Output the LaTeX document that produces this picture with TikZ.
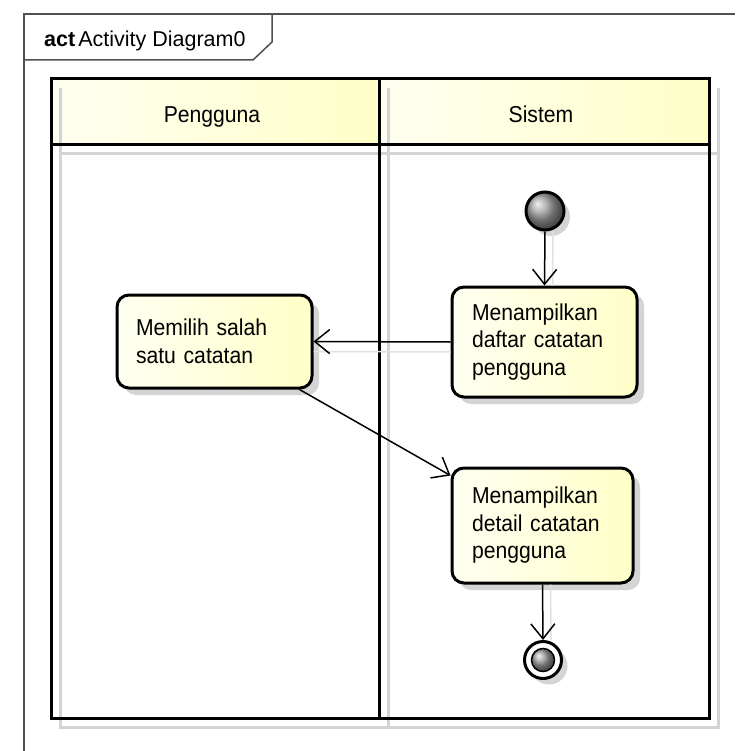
\documentclass[tikz,border=0pt]{standalone}
\usepackage{fontspec}
\setmainfont{Liberation Sans}
\newfontfamily\narrowsans[FakeStretch=0.92]{Liberation Sans}
\usetikzlibrary{arrows.meta,shadows}

\definecolor{framegray}{HTML}{505050}
\definecolor{paleyellow}{HTML}{FFFFF2}
\definecolor{lightyellow}{HTML}{FFFFC8}
\definecolor{shadowgray}{HTML}{D4D4D4}

\tikzset{
  diagramfont/.style={font=\narrowsans\fontsize{23}{27.5}\selectfont},
  titlefont/.style={font=\fontsize{21.5}{26}\selectfont},
  frameline/.style={draw=framegray, line width=1.5pt},
  laneline/.style={draw=black, line width=3pt},
  laneshadow/.style={draw=shadowgray, line width=3pt},
  lanehead/.style={left color=paleyellow, right color=lightyellow, draw=none},
  action/.style={diagramfont, rectangle, rounded corners=12pt, draw=black,
    line width=3pt, left color=paleyellow, right color=lightyellow,
    align=left, inner ysep=0pt,
    drop shadow={shadow xshift=7pt, shadow yshift=-7pt, fill=shadowgray, opacity=1}},
  startnode/.style={circle, draw=black, line width=3pt, minimum size=38pt,
    inner sep=0pt, ball color=gray!75,
    drop shadow={shadow xshift=6pt, shadow yshift=-6pt, fill=shadowgray, opacity=1}},
  endring/.style={circle, draw=black, line width=3pt, fill=white,
    minimum size=37pt, inner sep=0pt,
    drop shadow={shadow xshift=6pt, shadow yshift=-6pt, fill=shadowgray, opacity=1}},
  endcore/.style={circle, draw=black, line width=1.5pt, minimum size=23pt,
    inner sep=0pt, ball color=gray!75},
  flow/.style={draw=black, line width=1.5pt,
    -{Straight Barb[length=15pt, width=24pt, line width=1.5pt]}},
  flowshadow/.style={draw=shadowgray!70, line width=1.5pt},
}

\begin{document}
\begin{tikzpicture}[x=1pt, y=-1pt]
  \useasboundingbox (0,0) rectangle (735,751);
  \fill[white] (0,0) rectangle (735,751);

  % diagram frame with its name tab
  \draw[frameline] (24,751) -- (24,14) -- (735,14);
  \draw[frameline] (24,60) -- (253,60) -- (272,42) -- (272,14);
  \node[titlefont, anchor=base west, inner sep=0pt] (title) at (44,47)
    {\textbf{act}\hspace{3pt}Activity Diagram0};

  % swimlane headers
  \fill[lanehead] (51,79) rectangle (379,145);
  \fill[lanehead] (379,79) rectangle (709,145);

  % swimlane shadows
  \draw[laneshadow] (60,88) -- (60,727) -- (718,727) -- (718,88);
  \draw[laneshadow] (60,154) -- (718,154);
  \draw[laneshadow] (388,88) -- (388,727);

  % swimlane outlines
  \draw[laneline] (51,79) rectangle (709,718);
  \draw[laneline] (51,145) -- (709,145);
  \draw[laneline] (379,79) -- (379,718);

  \node[diagramfont, anchor=base] (laneU) at (212,123) {Pengguna};
  \node[diagramfont, anchor=base] (laneS) at (541,123) {Sistem};

  % activity nodes
  \node[startnode] (start) at (545,211) {};
  \node[action, minimum width=185pt, minimum height=110pt, text width=145pt,
    inner xsep=20pt] (list) at (544.5,342)
    {Menampilkan\\daftar catatan\\pengguna};
  \node[action, minimum width=195pt, minimum height=93pt, text width=157pt,
    inner xsep=19pt] (pick) at (214.5,341.5)
    {Memilih salah\\satu catatan};
  \node[action, minimum width=181pt, minimum height=115pt, text width=141pt,
    inner xsep=20pt] (detail) at (542.5,525.5)
    {Menampilkan\\detail catatan\\pengguna};
  \node[endring] (finish) at (543,660) {};
  \node[endcore] (finishcore) at (finish.center) {};

  % connector shadows
  \draw[flowshadow] ([xshift=8pt]start.south) -- ([xshift=8pt]list.north);
  \draw[flowshadow] ([yshift=-10pt]list.west) -- ([yshift=-10pt]pick.east);
  \draw[flowshadow] ([xshift=8pt]detail.south) -- ([xshift=8pt]finish.north);

  % control flows
  \draw[flow] (start.south) -- (list.north);
  \draw[flow] (list.west) -- (pick.east);
  \draw[flow] ([xshift=-14pt]pick.south east) -- ([yshift=-9pt]detail.north west);
  \draw[flow] (detail.south) -- (finish.north);
\end{tikzpicture}
\end{document}
